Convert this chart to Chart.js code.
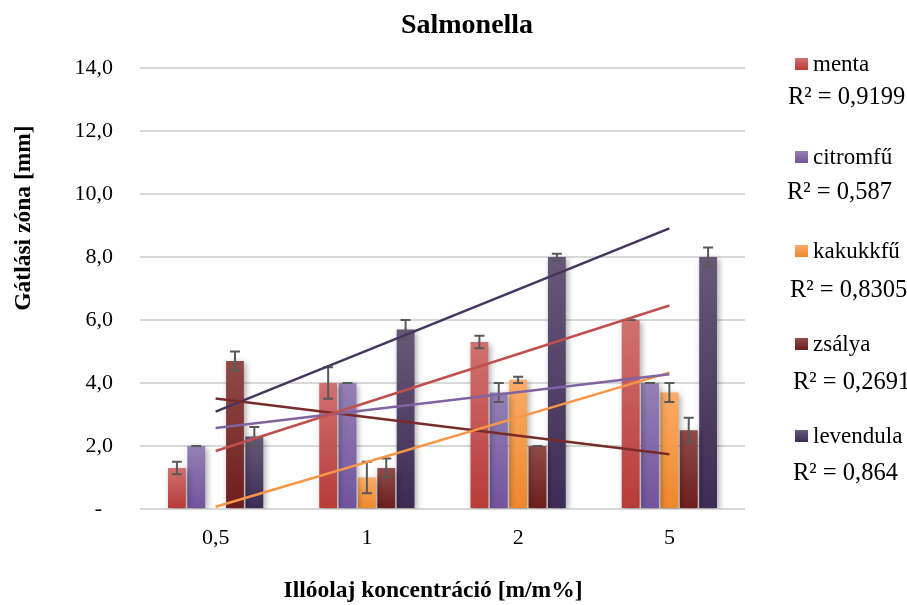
<!DOCTYPE html>
<html>
<head>
<meta charset="utf-8">
<script src="https://cdn.jsdelivr.net/npm/chart.js@4.4.1/dist/chart.umd.min.js"></script>
<style>
  html, body { margin: 0; padding: 0; background: #fff; }
</style>
</head>
<body>
<canvas id="chart" width="907" height="605"></canvas>
<script>
// adatok
const categories = ['0,5', '1', '2', '5'];
const seriesNames = ['menta', 'citromfű', 'kakukkfű', 'zsálya', 'levendula'];

const menta = [1.3, 4.0, 5.3, 6.0];
const citromfu = [2.0, 4.0, 3.7, 4.0];
const kakukkfu = [0, 1.0, 4.1, 3.7];
const zsalya = [4.7, 1.3, 2.0, 2.5];
const levendula = [2.3, 5.7, 8.0, 8.0];

const mentaErr = [0.2, 0.5, 0.2, 0];
const citromfuErr = [0, 0, 0.3, 0];
const kakukkfuErr = [0, 0.5, 0.1, 0.3];
const zsalyaErr = [0.3, 0.3, 0, 0.4];
const levendulaErr = [0.3, 0.3, 0.1, 0.3];

// trendvonalak kezdő- és végértéke (első és utolsó kategória)
const trendStart = [1.84, 2.57, 0.07, 3.51, 3.09];
const trendEnd = [6.46, 4.28, 4.33, 1.74, 8.91];
const rSquared = ['0,9199', '0,587', '0,8305', '0,2691', '0,864'];

const yTicks = { min: 0, max: 14, step: 2 };

// stílus
const FONT = "'Liberation Serif', 'Times New Roman', serif";
const barColors = [
    ['#d0716f', '#b73b39'],
    ['#9480b5', '#72539d'],
    ['#fbac66', '#ee872b'],
    ['#8f4b49', '#6d1d1c'],
    ['#675878', '#3e2b55'],
];
const lineColors = ['#c0504d', '#8064a2', '#f79646', '#772c2a', '#47355f'];
const legendRows = [
    { y: 64, ry: 97, rx: 788 },
    { y: 157, ry: 192, rx: 787 },
    { y: 251, ry: 290, rx: 790 },
    { y: 344, ry: 382, rx: 793 },
    { y: 436, ry: 473, rx: 793 },
];

const values = [menta, citromfu, kakukkfu, zsalya, levendula];
const errors = [mentaErr, citromfuErr, kakukkfuErr, zsalyaErr, levendulaErr];

function barFill(i) {
    return (c) => {
        const yScale = c.chart.scales.y;
        if (!yScale || c.raw == null) return barColors[i][1];
        const top = yScale.getPixelForValue(c.raw);
        const bottom = yScale.getPixelForValue(0);
        if (!isFinite(top) || Math.abs(bottom - top) < 1) return barColors[i][1];
        const g = c.chart.ctx.createLinearGradient(0, top, 0, bottom);
        g.addColorStop(0, barColors[i][0]);
        g.addColorStop(1, barColors[i][1]);
        return g;
    };
}

const datasets = [];
values.forEach((data, i) => {
    datasets.push({
        type: 'bar',
        label: seriesNames[i],
        data: data,
        errors: errors[i],
        backgroundColor: barFill(i),
        borderWidth: 0,
        order: 1,
        categoryPercentage: 0.64,
        barPercentage: 0.92,
    });
});
values.forEach((data, i) => {
    datasets.push({
        type: 'line',
        label: seriesNames[i] + ' trend',
        data: [trendStart[i], null, null, trendEnd[i]],
        spanGaps: true,
        borderColor: lineColors[i],
        borderWidth: 2.5,
        pointRadius: 0,
        fill: false,
        order: 0,
    });
});

// árnyék + hibasávok az oszlopokhoz
const errorBarPlugin = {
    id: 'errorBars',
    beforeDatasetDraw(chart, args) {
        const ds = chart.data.datasets[args.index];
        if (ds.type !== 'bar') return;
        const ctx = chart.ctx;
        ctx.save();
        ctx.shadowColor = 'rgba(0,0,0,0.35)';
        ctx.shadowBlur = 6;
        ctx.shadowOffsetX = 2;
        ctx.shadowOffsetY = 2;
    },
    afterDatasetDraw(chart, args) {
        const ds = chart.data.datasets[args.index];
        if (ds.type !== 'bar') return;
        const ctx = chart.ctx;
        ctx.restore();
        const yScale = chart.scales.y;
        ctx.save();
        ctx.strokeStyle = '#595959';
        ctx.lineWidth = 2;
        args.meta.data.forEach((bar, i) => {
            const e = ds.errors[i];
            const v = ds.data[i];
            if (e == null || !v) return;
            const top = yScale.getPixelForValue(v + e);
            const bottom = yScale.getPixelForValue(v - e);
            const x = bar.x;
            ctx.beginPath();
            ctx.moveTo(x, top);
            ctx.lineTo(x, bottom);
            ctx.moveTo(x - 5, top);
            ctx.lineTo(x + 5, top);
            ctx.moveTo(x - 5, bottom);
            ctx.lineTo(x + 5, bottom);
            ctx.stroke();
        });
        ctx.restore();
    },
};

// cím, tengelycímek, jelmagyarázat
const textPlugin = {
    id: 'texts',
    afterDraw(chart) {
        const ctx = chart.ctx;
        ctx.save();
        ctx.fillStyle = '#000';
        ctx.textAlign = 'center';
        ctx.textBaseline = 'middle';

        ctx.font = `bold 28px ${FONT}`;
        ctx.fillText('Salmonella', 467, 26);

        ctx.font = `bold 23.5px ${FONT}`;
        ctx.fillText('Illóolaj koncentráció [m/m%]', 433, 591);

        ctx.save();
        ctx.translate(24, 218);
        ctx.rotate(-Math.PI / 2);
        ctx.fillText('Gátlási zóna [mm]', 0, 0);
        ctx.restore();

        ctx.textAlign = 'left';
        seriesNames.forEach((name, i) => {
            const row = legendRows[i];
            const g = ctx.createLinearGradient(0, row.y - 6, 0, row.y + 6);
            g.addColorStop(0, barColors[i][0]);
            g.addColorStop(1, barColors[i][1]);
            ctx.fillStyle = g;
            ctx.fillRect(795, row.y - 6, 13, 12);
            ctx.fillStyle = '#000';
            ctx.font = `23px ${FONT}`;
            ctx.fillText(name, 813, row.y + 1);
            ctx.font = `24.5px ${FONT}`;
            ctx.fillText('R² = ' + rSquared[i], row.rx, row.ry + 1);
        });
        ctx.restore();
    },
};

const chart = new Chart(document.getElementById('chart'), {
    type: 'bar',
    data: { labels: categories, datasets: datasets },
    options: {
        responsive: false,
        animation: false,
        layout: { padding: { top: 68, right: 162, left: 0, bottom: 0 } },
        plugins: {
            legend: { display: false },
            title: { display: false },
            tooltip: { enabled: false },
        },
        scales: {
            x: {
                grid: { display: false, drawTicks: false },
                border: { display: false },
                ticks: { color: '#000', padding: 16, font: { family: FONT, size: 22 } },
                afterFit(scale) { scale.height = 96; },
            },
            y: {
                min: yTicks.min,
                max: yTicks.max,
                grid: { color: '#d9d9d9', lineWidth: 2, drawTicks: false },
                border: { display: false },
                ticks: {
                    stepSize: yTicks.step,
                    padding: 27,
                    color: '#000',
                    font: { family: FONT, size: 22 },
                    callback: (v) => (v === 0 ? '-  ' : v.toFixed(1).replace('.', ',')),
                },
                afterFit(scale) { scale.width = 140; },
            },
        },
    },
    plugins: [errorBarPlugin, textPlugin],
});
</script>
</body>
</html>
